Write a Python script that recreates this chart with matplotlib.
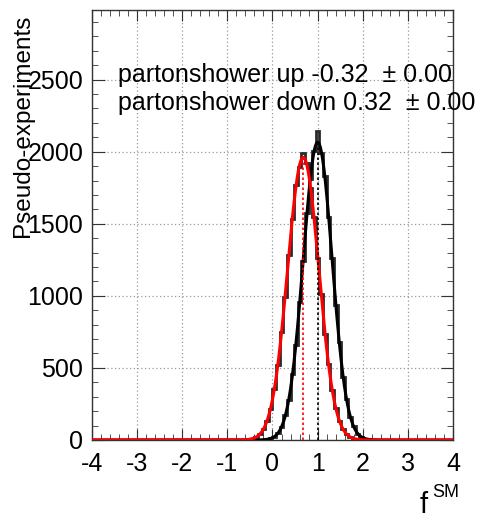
import numpy as np
import matplotlib
matplotlib.use("Agg")
import matplotlib.pyplot as plt
from matplotlib.ticker import MultipleLocator

plt.rcParams['font.family'] = ['Liberation Sans', 'DejaVu Sans']
plt.rcParams['axes.unicode_minus'] = False

# ---- data ----
bin_width = 0.08
# black histogram (nominal), first bin centre and counts
black_first_center = -0.36
black_counts = [0, 1, 2, 4, 11, 22, 49, 88, 170, 275, 455, 662, 955, 1240, 1575, 1810, 2005,
                2140, 1990, 1830, 1545, 1265, 935, 680, 440, 285, 160, 94, 45, 24, 10, 5, 2, 1, 0]
# red histogram (partonshower variation)
red_first_center = -0.76
red_counts = [0, 1, 2, 5, 10, 22, 40, 78, 130, 218, 355, 520, 752, 995, 1285, 1530, 1770, 1895,
              1990, 1920, 1750, 1545, 1265, 1010, 738, 530, 345, 225, 130, 78, 40, 22, 9, 5, 2, 1, 0]
# gaussian fit parameters: amplitude, mean, sigma
black_fit = (2065, 1.00, 0.32)
red_fit = (1960, 0.68, 0.345)

text_lines = ["partonshower up -0.32  \u00b1 0.00", "partonshower down 0.32  \u00b1 0.00"]
x_range = (-4, 4)
y_max = 2985

# ---- figure ----
fig = plt.figure(figsize=(4.81, 5.18), dpi=100)
ax = fig.add_axes([0.1906, 0.1506, 0.7518, 0.8307])

def edges_from(first_center, n):
    return first_center - bin_width / 2 + bin_width * np.arange(n + 1)

ax.stairs(black_counts, edges_from(black_first_center, len(black_counts)),
          color='#2a2a2a', lw=2.0, zorder=3)
ax.stairs(red_counts, edges_from(red_first_center, len(red_counts)),
          color='#2a2a2a', lw=2.0, zorder=3)

xs = np.linspace(x_range[0], x_range[1], 2000)
def gauss(p, x):
    a, m, s = p
    return a * np.exp(-0.5 * ((x - m) / s) ** 2)

ax.plot(xs, gauss(black_fit, xs), color='black', lw=2.2, zorder=4)
ax.plot(xs, gauss(red_fit, xs), color='red', lw=2.2, zorder=5)

ax.vlines(black_fit[1], 0, black_fit[0], colors='black', linestyles=(0, (1.5, 1.5)), lw=1.2, zorder=6)
ax.vlines(red_fit[1], 0, red_fit[0], colors='red', linestyles=(0, (1.5, 1.5)), lw=1.2, zorder=6)

ax.set_xlim(*x_range)
ax.set_ylim(0, y_max)

ax.xaxis.set_major_locator(MultipleLocator(1))
ax.xaxis.set_minor_locator(MultipleLocator(0.2))
ax.yaxis.set_major_locator(MultipleLocator(500))
ax.yaxis.set_minor_locator(MultipleLocator(100))

ax.grid(True, which='major', color='#999999', linestyle=(0, (1, 2)), lw=0.9, zorder=0)
ax.set_axisbelow(True)

ax.tick_params(which='both', direction='in', top=True, right=True, colors='#333333',
               labelcolor='black', labelsize=18)
ax.tick_params(axis='x', which='major', length=8, pad=9)
ax.tick_params(axis='x', which='minor', length=4)
ax.tick_params(axis='y', which='major', length=9, pad=6)
ax.tick_params(axis='y', which='minor', length=4.5)
for s in ax.spines.values():
    s.set_color('#333333')
    s.set_linewidth(1.0)

ax.set_ylabel("Pseudo-experiments", fontsize=17.5, loc='top')
ax.yaxis.set_label_coords(-0.16, 0.988)

fig.text(420 / 481, 5 / 518, "f", fontsize=21, ha='left', va='baseline')
fig.text(432 / 481, 21 / 518, "SM", fontsize=13, ha='left', va='baseline')
ax.text(0.073, 0.832, text_lines[0], transform=ax.transAxes, fontsize=18, va='baseline', ha='left')
ax.text(0.073, 0.768, text_lines[1], transform=ax.transAxes, fontsize=18, va='baseline', ha='left')

fig.savefig("out.png", dpi=100)
